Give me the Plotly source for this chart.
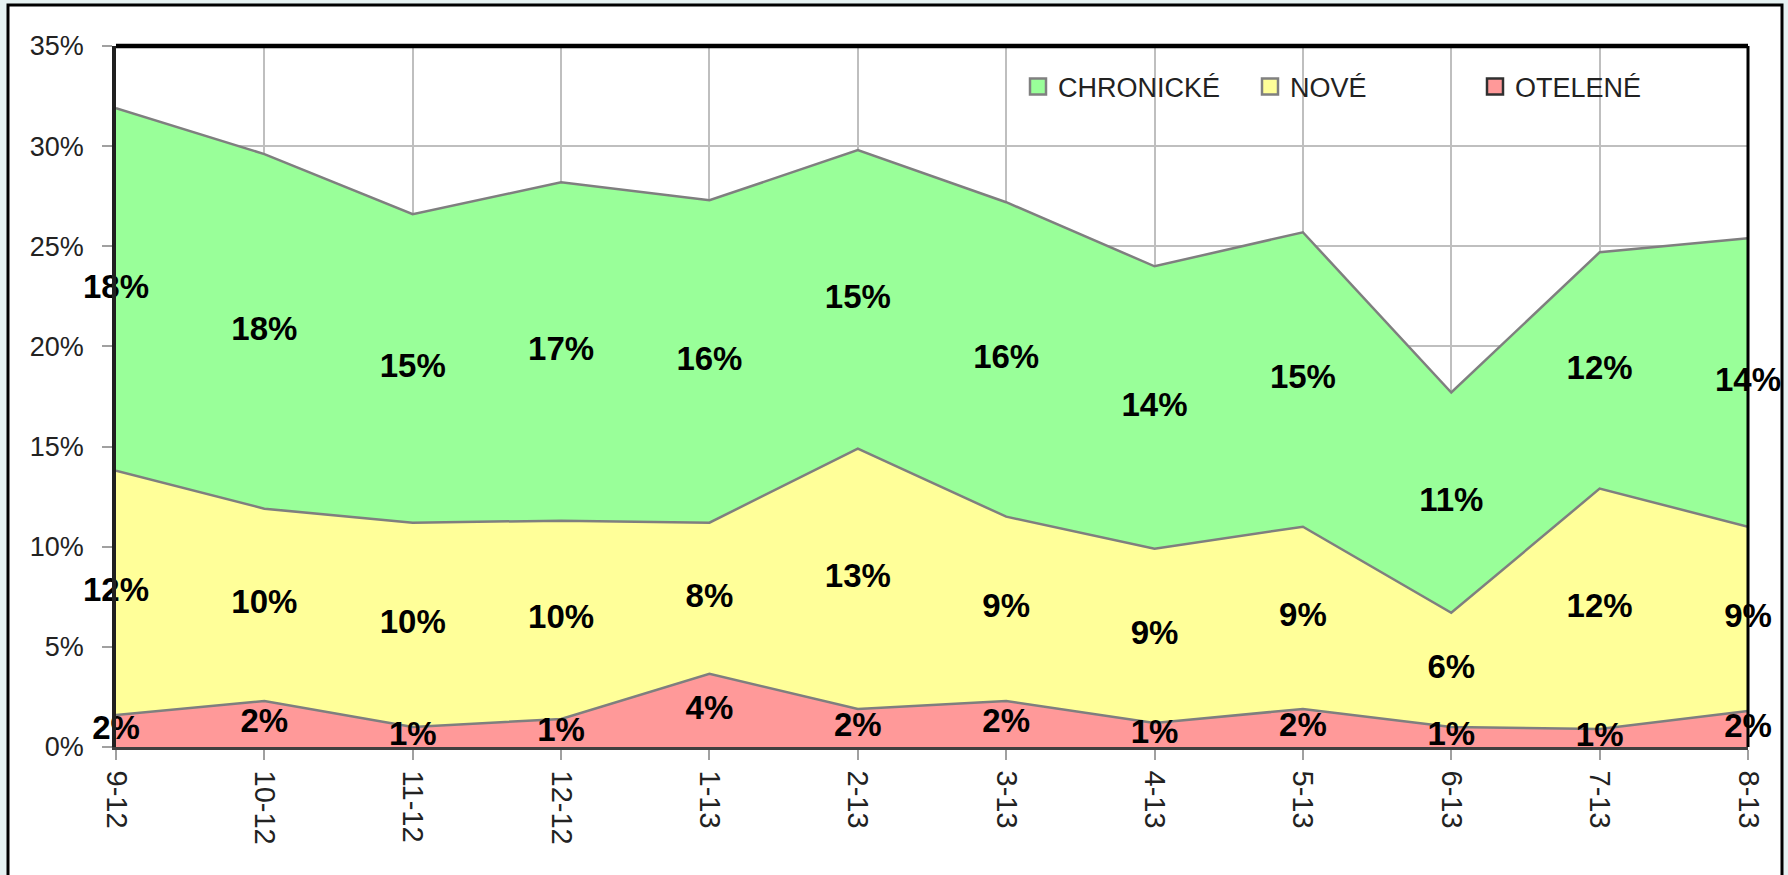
import plotly.graph_objects as go

months = ["9-12", "10-12", "11-12", "12-12", "1-13", "2-13", "3-13", "4-13", "5-13", "6-13", "7-13", "8-13"]
otelene = [1.6, 2.3, 1.0, 1.4, 3.65, 1.9, 2.3, 1.2, 1.9, 1.0, 0.9, 1.8]
nove = [12.2, 9.6, 10.2, 9.9, 7.55, 13.0, 9.2, 8.7, 9.1, 5.7, 12.0, 9.2]
chronicke = [18.1, 17.7, 15.4, 16.9, 16.1, 14.9, 15.7, 14.1, 14.7, 11.0, 11.8, 14.4]

series = [("OTELENÉ", otelene, "#FF9999"), ("NOVÉ", nove, "#FFFF99"), ("CHRONICKÉ", chronicke, "#99FF99")]
legend_items = [("CHRONICKÉ", "#99FF99", "#808080", "legend", 1018),
                ("NOVÉ", "#FFFF99", "#808080", "legend2", 1250),
                ("OTELENÉ", "#FF9999", "#303030", "legend3", 1475)]

W, H = 1788, 875
ML, MR, MT, MB = 116, 40, 46, 128
PW, PH = W - ML - MR, H - MT - MB
FONT = "Liberation Sans, Arial, sans-serif"

def px_x(p):
    return (p - ML) / PW

def px_y(p):
    return (H - MB - p) / PH

fig = go.Figure()
x = list(range(len(months)))

for name, vals, col in series:
    fig.add_trace(go.Scatter(
        x=x, y=[v / 100 for v in vals], name=name, stackgroup="one", mode="lines",
        line=dict(color="#7F7F7F", width=2.5), fillcolor=col,
        hoverinfo="skip", showlegend=False,
    ))

base = [0.0] * len(months)
for name, vals, col in series:
    mids = [(b + v / 2) / 100 for b, v in zip(base, vals)]
    fig.add_trace(go.Scatter(
        x=x, y=mids, mode="text", text=[f"<b>{int(v + 0.5)}%</b>" for v in vals],
        textfont=dict(family=FONT, size=33, color="black"),
        textposition="middle center", showlegend=False, cliponaxis=False, hoverinfo="skip",
    ))
    base = [b + v for b, v in zip(base, vals)]

for name, col, edge, lg, _ in legend_items:
    fig.add_trace(go.Scatter(
        x=[None], y=[None], mode="markers", name=name, legend=lg,
        marker=dict(symbol="square", size=18, color=col, line=dict(color=edge, width=2.5)),
    ))

tickfont_y = dict(family=FONT, size=27, color="#222222")
tickfont_x = dict(family=FONT, size=29, color="#222222")
legfont = dict(family=FONT, size=27, color="#222222")

legends = {}
for name, col, edge, lg, lx in legend_items:
    legends[lg] = dict(
        orientation="h", x=px_x(lx), y=px_y(87), xanchor="left", yanchor="middle",
        font=legfont, bgcolor="rgba(0,0,0,0)", itemwidth=30,
    )

fig.update_layout(
    width=W, height=H,
    margin=dict(l=ML, r=MR, t=MT, b=MB, pad=0),
    paper_bgcolor="#E6F2F2",
    plot_bgcolor="white",
    showlegend=True,
    xaxis=dict(
        tickvals=x, ticktext=months, range=[0, len(months) - 1],
        tickangle=90, tickfont=tickfont_x,
        showgrid=True, gridcolor="#BFBFBF", gridwidth=1.5,
        showline=True, linecolor="#404040", linewidth=2.5,
        ticks="outside", ticklen=10, tickcolor="#A0A0A0", tickwidth=1.5,
        ticklabelstandoff=5, zeroline=False,
    ),
    yaxis=dict(
        range=[0, 0.35], dtick=0.05, tickformat=".0%", tickfont=tickfont_y,
        showgrid=True, gridcolor="#BFBFBF", gridwidth=1.5,
        showline=True, linecolor="#202020", linewidth=3.5,
        ticks="outside", ticklen=10, tickcolor="#A0A0A0", tickwidth=1.5,
        ticklabelstandoff=13, zeroline=False,
    ),
    shapes=[
        dict(type="rect", xref="paper", yref="paper", layer="below",
             x0=px_x(8), x1=px_x(1782), y0=px_y(905), y1=px_y(5),
             line=dict(color="black", width=3), fillcolor="white"),
        dict(type="line", xref="paper", yref="paper", x0=0, x1=1, y0=1, y1=1,
             line=dict(color="black", width=4.5)),
        dict(type="line", xref="paper", yref="paper", x0=1, x1=1, y0=0, y1=1,
             line=dict(color="black", width=3)),
    ],
    **legends,
)

fig.write_html("out.html", config={"displayModeBar": False},
               post_script="document.body.style.margin='0px';")
